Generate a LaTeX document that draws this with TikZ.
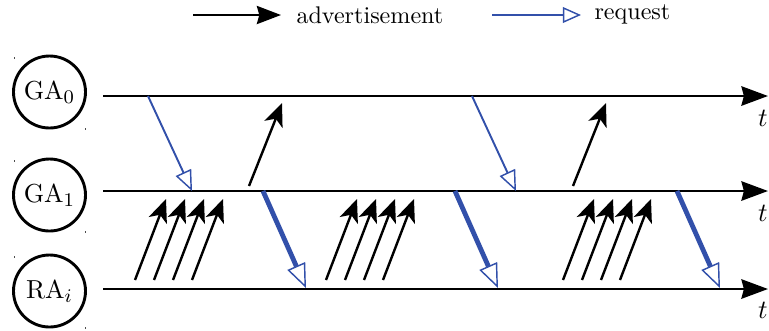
\documentclass[tikz,border=0pt]{standalone}
\usetikzlibrary{arrows.meta}
\definecolor{reqblue}{RGB}{50,80,170}
\begin{document}
\begin{tikzpicture}[x=0.415pt,y=-0.415pt,
  agent/.style={draw,circle,line width=1.2pt,minimum size=72*0.415pt,inner sep=0pt,font=\fontsize{10.8}{12}\selectfont},
  timeline/.style={line width=1.2pt,-{Stealth[length=11pt,width=8pt,inset=1pt]}},
  adv/.style={line width=1pt,-{Stealth[length=9.5pt,width=8pt,inset=2.5pt]}},
  reqthin/.style={draw=reqblue,line width=0.8pt,-{Triangle[open,length=8.5pt,width=7pt,line width=0.6pt]}},
  reqthick/.style={draw=reqblue,line width=2pt,-{Triangle[open,length=10pt,width=8pt,line width=0.6pt]}},
  tlabel/.style={font=\fontsize{10.5}{12}\selectfont},
  legtext/.style={font=\fontsize{10}{12}\selectfont,anchor=west}
]
\useasboundingbox (0,0) rectangle (769,330);

% legend
\coordinate (la0) at (193,15);
\coordinate (la1) at (281,15);
\draw[line width=1pt,-{Stealth[length=10pt,width=7.5pt,inset=1pt]}] (la0) -- (la1);
\node[legtext] (ladv) at (288,15) {advertisement};
\coordinate (lr0) at (492,15);
\coordinate (lr1) at (581,15);
\draw[reqthin,-{Triangle[open,length=7.5pt,width=6.5pt,line width=0.6pt]}] (lr0) -- (lr1);
\node[legtext] (lreq) at (586,14) {request};

% agents
\node[agent] (GA0) at (49.5,92) {GA$_0$};
\node[agent] (GA1) at (49.5,195) {GA$_1$};
\node[agent] (RA) at (49.5,291) {RA$_i$};

% corner specks
\foreach \y in {92,195,291}{
  \fill[black!70] (14,\y-35) rectangle +(1,2);
  \fill[black!70] (85,\y+36) rectangle +(1,2);
}

% timelines
\coordinate (s0) at (103,96);  \coordinate (e0) at (768,96);
\coordinate (s1) at (103,191); \coordinate (e1) at (768,191);
\coordinate (s2) at (103,289); \coordinate (e2) at (768,289);
\draw[timeline] (s0) -- (e0);
\draw[timeline] (s1) -- (e1);
\draw[timeline] (s2) -- (e2);
\node[tlabel] (t0) at (763,118) {$t$};
\node[tlabel] (t1) at (763,213) {$t$};
\node[tlabel] (t2) at (763,310) {$t$};

% requests GA0 -> GA1 and advertisements GA1 -> GA0
\foreach \i/\x in {1/148,2/472}{
  \coordinate (rq\i a) at (\x,96);
  \coordinate (rq\i b) at (\x+44,191);
  \draw[reqthin] (rq\i a) -- (rq\i b);
  \coordinate (ad\i a) at (\x+101,186);
  \coordinate (ad\i b) at (\x+134,103);
  \draw[adv] (ad\i a) -- (ad\i b);
}

% advertisement bursts RA -> GA1
\foreach \g/\x in {1/135,2/326,3/563}{
  \foreach \k in {0,1,2,3}{
    \coordinate (b\g\k a) at (\x+19*\k,280);
    \coordinate (b\g\k b) at (\x+31+19*\k,199);
    \draw[adv] (b\g\k a) -- (b\g\k b);
  }
}

% thick requests GA1 -> RA
\foreach \i/\x in {1/263,2/455,3/677}{
  \coordinate (tq\i a) at (\x,191);
  \coordinate (tq\i b) at (\x+43,288);
  \draw[reqthick] (tq\i a) -- (tq\i b);
}
\end{tikzpicture}
\end{document}
